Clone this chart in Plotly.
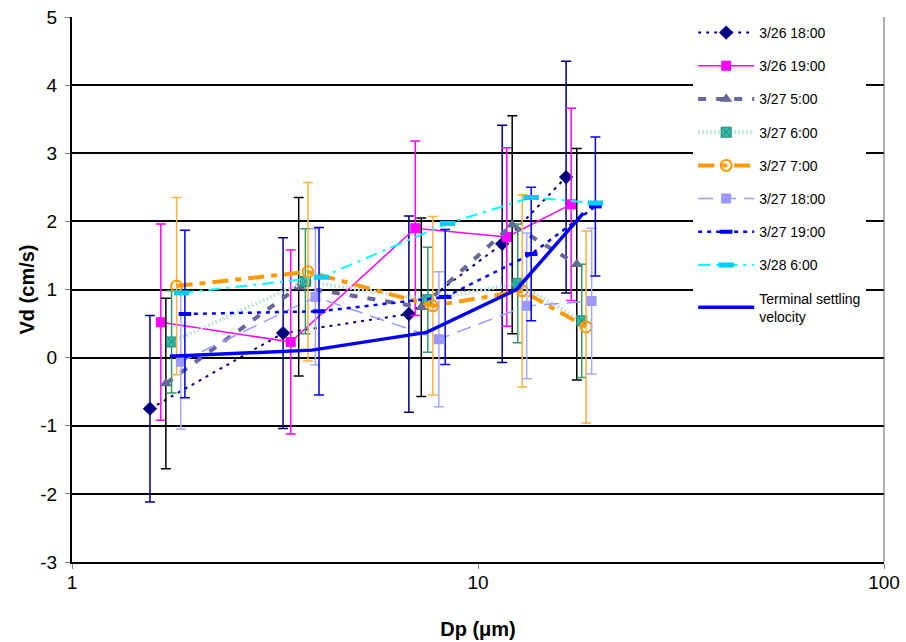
import plotly.graph_objects as go

# ---- data ----
names = ["3/26 18:00", "3/26 19:00", "3/27 5:00", "3/27 6:00", "3/27 7:00",
         "3/27 18:00", "3/27 19:00", "3/28 6:00"]

x_2618 = [1.556, 3.311, 6.757, 11.47, 16.48]
y_2618 = [-0.75, 0.36, 0.64, 1.67, 2.65]
e_2618 = [1.37, 1.40, 1.44, 1.74, 1.70]

x_2619 = [1.655, 3.457, 7.007, 11.77, 16.96]
y_2619 = [0.52, 0.23, 1.90, 1.77, 2.25]
e_2619 = [1.44, 1.35, 1.28, 1.31, 1.41]

x_2705 = [1.703, 3.617, 7.249, 12.14, 17.51]
y_2705 = [-0.38, 1.04, 0.74, 1.95, 1.37]
e_2705 = [1.25, 1.31, 1.31, 1.60, 1.70]

x_2706 = [1.759, 3.757, 7.524, 12.53, 18.01]
y_2706 = [0.23, 1.12, 0.85, 1.09, 0.54]
e_2706 = [0.75, 0.77, 0.77, 0.87, 0.83]

x_2707 = [1.810, 3.813, 7.741, 12.85, 18.46]
y_2707 = [1.05, 1.26, 0.76, 0.98, 0.45]
e_2707 = [1.30, 1.31, 1.31, 1.41, 1.41]

x_2718 = [1.854, 3.977, 8.008, 13.18, 19.05]
y_2718 = [-0.06, 0.89, 0.27, 0.76, 0.83]
e_2718 = [0.99, 1.00, 0.99, 1.07, 1.07]

x_2719 = [1.897, 4.059, 8.303, 13.52, 19.46]
y_2719 = [0.64, 0.68, 0.89, 1.52, 2.22]
e_2719 = [1.23, 1.23, 0.99, 0.98, 1.02]

x_2806 = [1.862, 4.115, 8.414, 13.52, 19.46]
y_2806 = [0.95, 1.18, 1.97, 2.35, 2.27]

x_term = [1.742, 3.9, 7.47, 12.44, 18.18]
y_term = [0.02, 0.11, 0.37, 1.00, 2.12]

y_ticks = [-3, -2, -1, 0, 1, 2, 3, 4, 5]
y_ticktext = ["-3", "-2", "-1", "0", "1", "2", "3", "4", "5"]
x_ticks = [1, 10, 100]
x_ticktext = ["1", "10", "100"]

FONT = "Liberation Sans, Arial, sans-serif"

fig = go.Figure()

def add(name, x, y, err, line, marker, ecolor, grp):
    kw = {}
    if err is not None:
        kw["error_y"] = dict(type="data", array=err, visible=True, color=ecolor,
                             thickness=1.5, width=5)
    fig.add_trace(go.Scatter(x=x, y=y, name=name, mode="lines+markers",
                             line=line, marker=marker, legendgroup=grp, **kw))

add(names[0], x_2618, y_2618, e_2618,
    dict(color="#000080", width=2, dash="3px,5px"),
    dict(symbol="diamond", size=11, color="#000080"), "#000080", "g0")
add(names[1], x_2619, y_2619, e_2619,
    dict(color="#FF00FF", width=1.5),
    dict(symbol="square", size=10, color="#FF00FF"), "#FF00FF", "g1")
add(names[2], x_2705, y_2705, e_2705,
    dict(color="#666699", width=4, dash="8px,10px"),
    dict(symbol="triangle-up", size=11, color="#666699"), "#000000", "g2")
add(names[3], x_2706, y_2706, e_2706,
    dict(color="#C4E4E0", width=4, dash="2px,2px"),
    dict(symbol="square-x", size=10, color="#33BBAA",
         line=dict(color="#228877", width=1)), "#339966", "g3")
add(names[4], x_2707, y_2707, e_2707,
    dict(color="#FF9900", width=4, dash="16px,7px,6px,7px"),
    dict(symbol="circle-open", size=11, color="#FF9900", line=dict(width=2)),
    "#FFB040", "g4")
add(names[5], x_2718, y_2718, e_2718,
    dict(color="#9999FF", width=1.5, dash="15px,8px"),
    dict(symbol="square", size=10, color="#9999FF"), "#A8A8FF", "g5")
add(names[6], x_2719, y_2719, e_2719,
    dict(color="#0000FF", width=2.5, dash="4px,5px"),
    dict(symbol="line-ew", size=9, color="#0000FF",
         line=dict(color="#0000FF", width=4)), "#0000FF", "g6")
add(names[7], x_2806, y_2806, None,
    dict(color="#00FFFF", width=2, dash="12px,6px,3px,6px"),
    dict(symbol="line-ew", size=11, color="#00CCFF",
         line=dict(color="#00CCFF", width=5)), None, "g7")

fig.add_trace(go.Scatter(x=x_term, y=y_term, name="Terminal settling<br>velocity",
                         mode="lines", line=dict(color="#0000FF", width=3.5),
                         legendgroup="g8"))

fig.update_layout(
    width=906, height=642,
    margin=dict(l=72, r=22, t=17, b=80),
    paper_bgcolor="white", plot_bgcolor="white",
    font=dict(family=FONT, color="black"),
    showlegend=True,
    legend=dict(x=0.765, y=1, xanchor="left", yanchor="top",
                bgcolor="white", borderwidth=0, font=dict(size=14, family=FONT),
                traceorder="grouped", tracegroupgap=12, itemwidth=56),
    xaxis=dict(type="log", range=[0, 2], tickvals=x_ticks,
               ticktext=x_ticktext, showgrid=False, automargin=False,
               showline=True, linecolor="black", linewidth=2,
               ticks="outside", ticklen=5, tickcolor="#808080",
               tickfont=dict(size=19, family=FONT), ticklabelstandoff=-3,
               title=dict(text="<b>Dp (μm)</b>", font=dict(size=20, family=FONT),
                          standoff=30)),
    yaxis=dict(range=[-3, 5], tickvals=y_ticks, ticktext=y_ticktext,
               showgrid=True, gridcolor="black", automargin=False,
               gridwidth=2, zeroline=True, zerolinecolor="black", zerolinewidth=2,
               showline=True, linecolor="black", linewidth=2,
               ticks="outside", ticklen=5, tickcolor="#808080",
               tickfont=dict(size=19, family=FONT), ticklabelstandoff=4,
               title=dict(text="<b>Vd (cm/s)</b>", font=dict(size=20, family=FONT),
                          standoff=0)),
    shapes=[dict(type="line", xref="paper", yref="paper", x0=1, x1=1, y0=0, y1=1,
                 line=dict(color="#606060", width=1))],
)

fig.write_html("out.html",
               config={"displayModeBar": False},
               post_script="document.body.style.margin='0';document.body.style.overflow='hidden';")
